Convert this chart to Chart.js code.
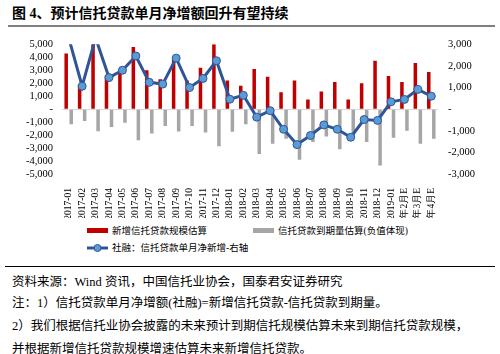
<!DOCTYPE html>
<html>
<head>
<meta charset="utf-8">
<script src="https://cdn.jsdelivr.net/npm/chart.js@4"></script>
<style>
  body { margin:0; width:500px; height:354px; background:#fff; position:relative; overflow:hidden;
         font-family:'Liberation Serif','Noto Sans CJK SC',serif; color:#000; }
  #title { position:absolute; left:12px; top:2px; font-size:14px; font-weight:bold; white-space:nowrap; }
  #rule1 { position:absolute; left:8px; top:25px; width:487px; height:2px; background:#7f7f7f; }
  #wrap { position:absolute; left:0; top:28px; width:500px; height:190px; }
  .lg { position:absolute; font-size:9.5px; white-space:nowrap; line-height:12px; }
  .sw { display:inline-block; width:21px; height:5px; vertical-align:middle; margin-right:4px; position:relative; top:-1px; }
  #rule2 { position:absolute; left:5px; top:266px; width:490px; height:1px; background:#000; }
  .note { position:absolute; left:12px; font-size:12.5px; white-space:nowrap; }
</style>
</head>
<body>
<div id="title">图 4、预计信托贷款单月净增额回升有望持续</div>
<div id="rule1"></div>
<div id="wrap"><canvas id="c" width="500" height="190"></canvas></div>
<div class="lg" style="left:87px;top:225px;"><span class="sw" style="background:#C00000"></span>新增信托贷款规模估算</div>
<div class="lg" style="left:253px;top:225px;"><span class="sw" style="background:#A6A6A6"></span>信托贷款到期量估算(负值体现)</div>
<div class="lg" style="left:87px;top:242px;"><svg width="21" height="8" style="vertical-align:middle;margin-right:4px;position:relative;top:-1px"><line x1="0" y1="4" x2="21" y2="4" stroke="#2F5597" stroke-width="3"/><circle cx="10.5" cy="4" r="3.5" fill="#5B9BD5" stroke="#2F5597" stroke-width="1"/></svg>社融：信托贷款单月净新增-右轴</div>
<div id="rule2"></div>
<div class="note" style="top:271px;">资料来源：Wind 资讯，中国信托业协会，国泰君安证券研究</div>
<div class="note" style="top:292px;">注：1）信托贷款单月净增额(社融)=新增信托贷款-信托贷款到期量。</div>
<div class="note" style="top:315px;">2）我们根据信托业协会披露的未来预计到期信托规模估算未来到期信托贷款规模，</div>
<div class="note" style="top:338px;">并根据新增信托贷款规模增速估算未来新增信托贷款。</div>
<script>
const labels = ['2017-01','2017-02','2017-03','2017-04','2017-05','2017-06','2017-07','2017-08','2017-09','2017-10','2017-11','2017-12',
  '2018-01','2018-02','2018-03','2018-04','2018-05','2018-06','2018-07','2018-08','2018-09','2018-10','2018-11','2018-12',
  '2019-01','19年2月E','19年3月E','19年4月E'];
const newLoans = [4300,1900,5000,2600,2900,4800,3000,2300,3800,2200,3200,5000,
  2200,1800,3100,2500,1300,2200,750,1370,2100,750,2000,3730,
  2560,2100,3560,2860];
const maturity = [-1170,-920,-1700,-1370,-1040,-2400,-1870,-1300,-1720,-1300,-1800,-2860,
  -1740,-1170,-3460,-2660,-2290,-3900,-2540,-2100,-3100,-2160,-2540,-4350,
  -2200,-1670,-2660,-2290];
const netChange = [3300,1060,3300,1460,1800,2460,1240,1160,2360,1000,1420,2240,
  460,640,-370,-70,-930,-1640,-1220,-730,-930,-1300,-480,-520,
  340,450,910,600];

const fmt = v => v === 0 ? '-' : v.toLocaleString('en-US');
const tickFont = { family:'Liberation Serif', size:10.5 };

new Chart(document.getElementById('c'), {
  type:'bar',
  data:{
    labels:labels,
    datasets:[
      { label:'新增信托贷款规模估算', data:newLoans, backgroundColor:'#C00000', yAxisID:'y', order:1,
        categoryPercentage:0.75, barPercentage:0.7 },
      { label:'信托贷款到期量估算(负值体现)', data:maturity, backgroundColor:'#A6A6A6', yAxisID:'y', order:1,
        categoryPercentage:0.75, barPercentage:0.7 },
      { type:'line', label:'社融：信托贷款单月净新增-右轴', data:netChange, yAxisID:'y1', order:0,
        borderColor:'#2F5597', borderWidth:3, backgroundColor:'#5B9BD5',
        pointBackgroundColor:'#5B9BD5', pointBorderColor:'#2F5597', pointBorderWidth:1,
        pointRadius: c => c.raw > 3000 ? 0 : 4, tension:0, clip:0 }
    ]
  },
  options:{
    responsive:false, animation:false,
    layout:{ padding:{ top:2, bottom:0, left:0, right:0 } },
    plugins:{ legend:{ display:false }, tooltip:{ enabled:false } },
    scales:{
      x:{
        grid:{ display:false }, border:{ display:false },
        ticks:{ font:{ family:'Liberation Serif', size:9.5 }, color:'#000', minRotation:90, maxRotation:90, autoSkip:false, padding:6 },
        afterFit: s => { s.height = 44; }
      },
      y:{
        position:'left', min:-5000, max:5000,
        ticks:{ stepSize:1000, autoSkip:false, callback:fmt, font:tickFont, color:'#000', padding:9 },
        grid:{ drawTicks:false, color: c => c.tick && c.tick.value === 0 ? '#d9d9d9' : 'rgba(0,0,0,0)' },
        border:{ display:false },
        afterFit: s => { s.width = 62; }
      },
      y1:{
        position:'right', min:-3000, max:3000,
        ticks:{ stepSize:1000, autoSkip:false, callback:fmt, font:tickFont, color:'#000', padding:10 },
        grid:{ display:false, drawTicks:false }, border:{ display:false },
        afterFit: s => { s.width = 62; }
      }
    }
  }
});
</script>
</body>
</html>
